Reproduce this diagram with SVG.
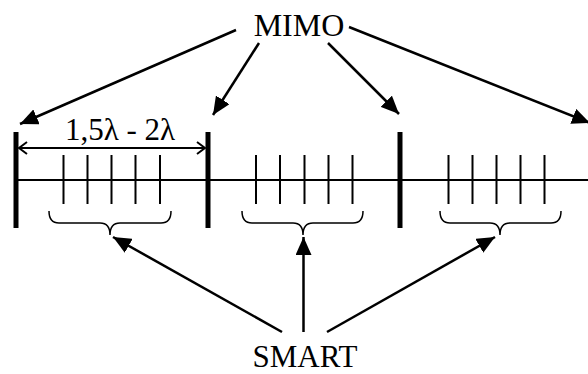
<svg xmlns="http://www.w3.org/2000/svg" width="588" height="374" viewBox="0 0 588 374">
<style>
  .t{font-family:"Liberation Serif","Times New Roman",serif;fill:#000;}
  .ln{stroke:#000;stroke-width:2;fill:none;}
  .bar{stroke:#000;stroke-width:5;fill:none;}
  .tick{stroke:#000;stroke-width:2;fill:none;}
  .br{stroke:#000;stroke-width:1.5;fill:none;}
  .ar{stroke:#000;stroke-width:2.5;fill:none;marker-end:url(#ah);}
</style>
<defs>
  <marker id="ah" markerUnits="userSpaceOnUse" markerWidth="20" markerHeight="16" refX="18" refY="8" orient="auto">
    <path d="M0,0 L18,8 L0,16 Z" fill="#000"/>
  </marker>
  <marker id="ch" markerUnits="userSpaceOnUse" markerWidth="12" markerHeight="16" refX="9" refY="7" orient="auto-start-reverse">
    <path d="M1,1 L9,7 L1,13" fill="none" stroke="#000" stroke-width="2"/>
  </marker>
</defs>
<g id="antenna-line">
  <line class="ln" x1="16" y1="180" x2="588" y2="180"/>
</g>
<g id="bar1"><line class="bar" x1="16" y1="132" x2="16" y2="228"/></g>
<g id="bar2"><line class="bar" x1="208" y1="132" x2="208" y2="228"/></g>
<g id="bar3"><line class="bar" x1="400" y1="132" x2="400" y2="228"/></g>
<g id="group1">
  <path class="tick" d="M63.5,155V204M87.5,155V204M111.5,155V204M135.5,155V204M160,155V204"/>
  <path class="br" d="M49,211 Q49,223 59,223 L100,223 Q110,223 110,235 Q110,223 120,223 L161,223 Q171,223 171,211"/>
</g>
<g id="group2">
  <path class="tick" d="M256,155V204M280,155V204M304.5,155V204M328.5,155V204M352.5,155V204"/>
  <path class="br" d="M242,211 Q242,223 252,223 L293,223 Q303,223 303,235 Q303,223 313,223 L353,223 Q363,223 363,211"/>
</g>
<g id="group3">
  <path class="tick" d="M448.5,155V204M472.5,155V204M496.5,155V204M520.5,155V204M544.5,155V204"/>
  <path class="br" d="M440,211 Q440,223 450,223 L490,223 Q500,223 500,235 Q500,223 510,223 L551,223 Q561,223 561,211"/>
</g>
<g id="spacing">
  <line x1="19" y1="148" x2="205" y2="148" stroke="#000" stroke-width="2" marker-start="url(#ch)" marker-end="url(#ch)"/>
  <text class="t" x="120" y="140" font-size="31" text-anchor="middle">1,5λ - 2λ</text>
</g>
<g id="mimo"><text class="t" x="299" y="36" font-size="32" text-anchor="middle">MIMO</text></g>
<g id="smart"><text class="t" x="305" y="367" font-size="31" text-anchor="middle">SMART</text></g>
<g id="connectors">
  <line class="ar" x1="236" y1="30" x2="20" y2="124"/>
  <line class="ar" x1="259" y1="43" x2="213" y2="115"/>
  <line class="ar" x1="328" y1="43" x2="399" y2="114"/>
  <line class="ar" x1="349" y1="27" x2="590" y2="123"/>
  <line class="ar" x1="282" y1="332" x2="113" y2="237"/>
  <line class="ar" x1="303.5" y1="332" x2="303.5" y2="237"/>
  <line class="ar" x1="327" y1="332" x2="495" y2="237"/>
</g>
</svg>
